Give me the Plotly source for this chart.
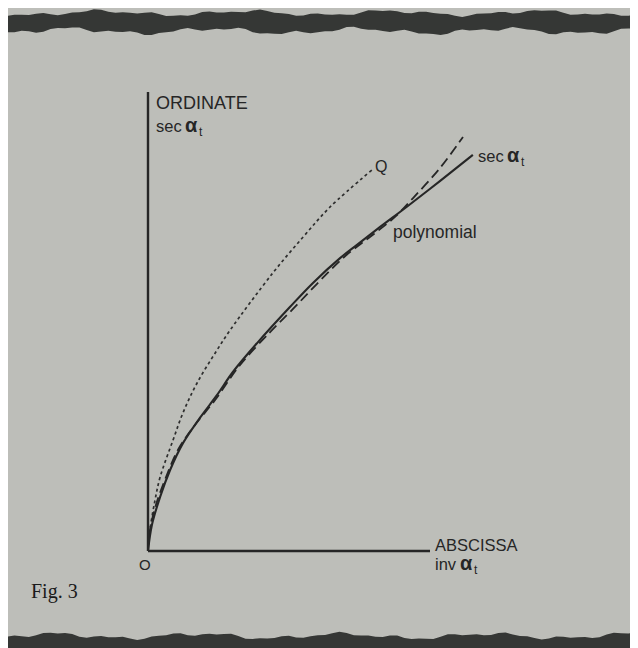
import math
import plotly.graph_objects as go

# ---- data (axis units: abscissa 0..10, ordinate 0..10) ----
sec_x = [0, 0.14, 0.43, 0.78, 1.24, 1.84, 2.45, 3.01, 3.87, 5.04, 5.85, 6.81, 7.41, 8.23, 9.18, 10.35, 11.52]
sec_y = [0, 0.57, 1.18, 1.76, 2.35, 2.90, 3.40, 3.90, 4.53, 5.32, 5.84, 6.38, 6.67, 7.06, 7.50, 8.06, 8.63]

q_x = [0, 0.07, 0.25, 0.43, 0.89, 1.24, 1.74, 2.45, 2.91, 4.43, 5.50, 6.45, 7.94]
q_y = [0, 0.46, 1.11, 1.61, 2.42, 3.01, 3.66, 4.38, 4.81, 6.06, 6.84, 7.49, 8.30]

poly_x = [0, 0.07, 0.28, 0.60, 1.06, 1.67, 2.38, 3.26, 4.33, 5.04, 6.91, 7.87, 8.76, 9.40, 10.35, 11.17]
poly_y = [0, 0.46, 1.00, 1.55, 2.20, 2.75, 3.29, 4.05, 4.77, 5.21, 6.38, 6.84, 7.28, 7.69, 8.34, 9.02]

axis_len_x = 10
axis_len_y = 10

# page body has an 8px margin; figure fills the rest of the 638x648 window
OFF = 8
W, H = 630, 640
X0, Y0 = 148, 551          # origin in screen pixels
SX, SY = 28.2, 45.9        # pixels per unit


def xd(px):
    return (px - X0) / SX


def yd(py):
    return (Y0 - py) / SY


INK = "#262626"
FONT = "Liberation Sans"

fig = go.Figure()
fig.add_trace(go.Scatter(x=q_x, y=q_y, mode="lines",
                         line=dict(color="#2e2e2e", width=1.7, dash="3px,3px",
                                   shape="spline", smoothing=1.0),
                         hoverinfo="skip", showlegend=False))
fig.add_trace(go.Scatter(x=poly_x, y=poly_y, mode="lines",
                         line=dict(color=INK, width=1.8, dash="10px,5px",
                                   shape="spline", smoothing=1.0),
                         hoverinfo="skip", showlegend=False))
fig.add_trace(go.Scatter(x=sec_x, y=sec_y, mode="lines",
                         line=dict(color=INK, width=2.1, shape="spline", smoothing=1.0),
                         hoverinfo="skip", showlegend=False))

shapes = []
# axes
shapes.append(dict(type="line", xref="x", yref="y", x0=0, y0=0, x1=axis_len_x, y1=0,
                   line=dict(color=INK, width=2.4), layer="above"))
shapes.append(dict(type="line", xref="x", yref="y", x0=0, y0=0, x1=0, y1=axis_len_y,
                   line=dict(color=INK, width=2.4), layer="above"))


def wavy(px_from, px_to, base, amp, phase):
    pts = []
    n = 90
    for i in range(n + 1):
        px = px_from + (px_to - px_from) * i / n
        off = (amp * math.sin(px / 23.0 + phase)
               + 0.6 * amp * math.sin(px / 9.0 + 2 * phase)
               + 0.4 * amp * math.sin(px / 4.3 + 3 * phase))
        pts.append((px, base + off))
    return pts


def to_paper(px, py):
    return (px - OFF) / W, 1 - (py - OFF) / H


def path_of(pts):
    s = ""
    for i, (px, py) in enumerate(pts):
        a, b = to_paper(px, py)
        s += ("M" if i == 0 else "L") + f"{a:.4f},{b:.4f} "
    return s + "Z"


# top dark torn band
top_edge = wavy(0, 650, 13, 2.0, 0.3)
bot_edge = wavy(650, 0, 31, 2.4, 1.7)
shapes.append(dict(type="path", xref="paper", yref="paper", path=path_of(top_edge + bot_edge),
                   fillcolor="#353735", line=dict(width=0), layer="above"))

# bottom dark torn band
edge = wavy(0, 650, 636, 2.2, 2.4)
shapes.append(dict(type="path", xref="paper", yref="paper",
                   path=path_of([(0, 660)] + edge + [(650, 660)]),
                   fillcolor="#353735", line=dict(width=0), layer="above"))


def ann(px, py, text, size, family=FONT, weight="normal", color=INK):
    return dict(x=xd(px), y=yd(py), xref="x", yref="y", text=text, showarrow=False,
                xanchor="left", yanchor="middle",
                font=dict(family=family, size=size, color=color, weight=weight))


def sec_label(px, py, word):
    w = 27 if word == "sec" else 23
    return [
        ann(px, py, word, 16.5),
        ann(px + w + 2, py - 1, "α", 20, weight="bold"),
        ann(px + w + 16, py + 6, "t", 12),
    ]


annotations = [
    ann(154, 103, "ORDINATE", 18),
    *sec_label(154, 126, "sec"),
    ann(373, 166, "Q", 16),
    *sec_label(476, 156, "sec"),
    ann(391, 232, "polynomial", 17.5),
    ann(433, 545, "ABSCISSA", 16.5),
    *sec_label(433, 564, "inv"),
    ann(137, 564, "O", 15),
    ann(29, 591, "Fig. 3", 20, family="Liberation Serif", color="#1a1a1a"),
]

fig.update_layout(
    width=W, height=H, autosize=False,
    margin=dict(l=0, r=0, t=0, b=0, pad=0),
    paper_bgcolor="#bdbeb9", plot_bgcolor="#bdbeb9",
    xaxis=dict(range=[xd(OFF), xd(OFF + W)], visible=False, fixedrange=True),
    yaxis=dict(range=[yd(OFF + H), yd(OFF)], visible=False, fixedrange=True),
    shapes=shapes, annotations=annotations, showlegend=False,
)

fig.write_html("out.html")
